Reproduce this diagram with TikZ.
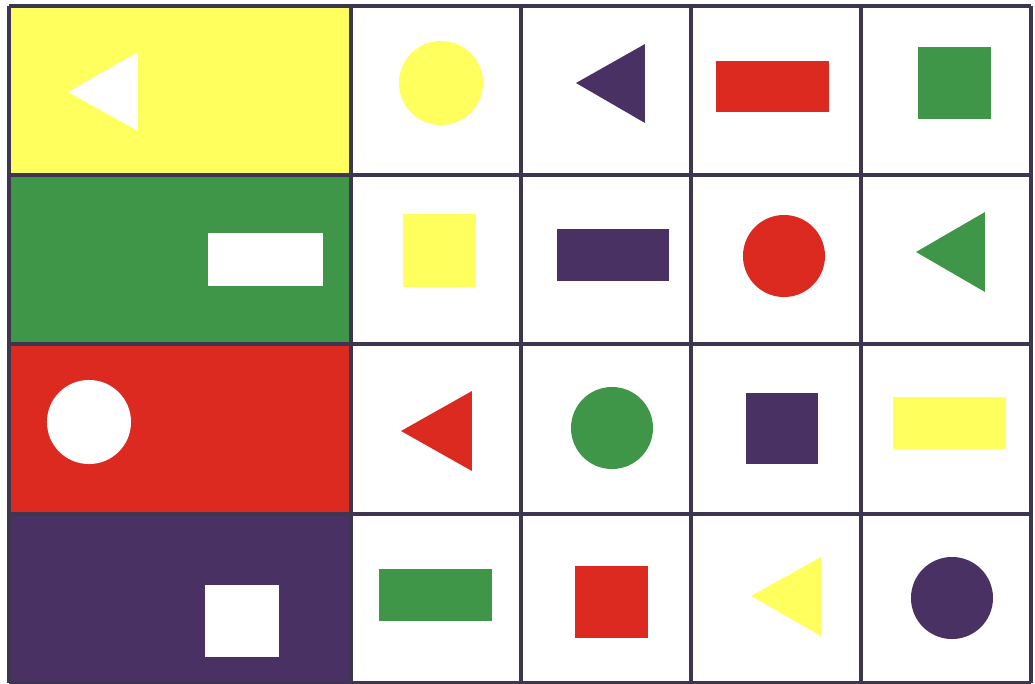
\documentclass[tikz,border=0pt]{standalone}
\usetikzlibrary{positioning}
\definecolor{ChartYellow}{HTML}{FFFF5E}
\definecolor{ChartGreen}{HTML}{3F9648}
\definecolor{ChartRed}{HTML}{DD2A20}
\definecolor{ChartPurple}{HTML}{4A3163}
\definecolor{GridInk}{HTML}{3E3550}
\tikzset{
  gridline/.style={draw=GridInk,line width=.9pt},
  band/.style={fill=#1},
  token/.style={fill=#1},
  blank/.style={fill=white}
}
\begin{document}
\begin{tikzpicture}[x=.01cm,y=-.01cm]
  \useasboundingbox (0,0) rectangle (1035,684);
  % coloured bands of the first column
  \fill[band=ChartYellow] (9,6) rectangle (351,175);
  \fill[band=ChartGreen] (9,175) rectangle (351,344);
  \fill[band=ChartRed] (9,344) rectangle (351,514);
  \fill[band=ChartPurple] (9,514) rectangle (351,683);
  % row 1
  \fill[blank] (68,92) -- (138,52) -- (138,131) -- cycle;
  \fill[token=ChartYellow] (441,83) circle[radius=.42cm];
  \fill[token=ChartPurple] (576,83) -- (645,44) -- (645,123) -- cycle;
  \fill[token=ChartRed] (716,61) rectangle (829,112);
  \fill[token=ChartGreen] (918,47) rectangle (991,119);
  % row 2
  \fill[blank] (208,233) rectangle (323,286);
  \fill[token=ChartYellow] (403,214) rectangle (476,287);
  \fill[token=ChartPurple] (557,229) rectangle (669,281);
  \fill[token=ChartRed] (784,256) circle[radius=.41cm];
  \fill[token=ChartGreen] (916,252) -- (985,212) -- (985,292) -- cycle;
  % row 3
  \fill[blank] (89,422) circle[radius=.42cm];
  \fill[token=ChartRed] (401,431) -- (472,391) -- (472,471) -- cycle;
  \fill[token=ChartGreen] (612,428) circle[radius=.41cm];
  \fill[token=ChartPurple] (746,393) rectangle (818,464);
  \fill[token=ChartYellow] (893,397) rectangle (1006,449);
  % row 4
  \fill[blank] (205,585) rectangle (279,657);
  \fill[token=ChartGreen] (379,569) rectangle (492,621);
  \fill[token=ChartRed] (575,566) rectangle (648,638);
  \fill[token=ChartYellow] (751,596) -- (821,557) -- (821,636) -- cycle;
  \fill[token=ChartPurple] (952,598) circle[radius=.41cm];
  % grid
  \foreach \x in {9,351,521,691,861,1031}
    \draw[gridline] (\x,6) -- (\x,683);
  \foreach \y in {6,175,344,514,683}
    \draw[gridline] (9,\y) -- (1031,\y);
\end{tikzpicture}
\end{document}
